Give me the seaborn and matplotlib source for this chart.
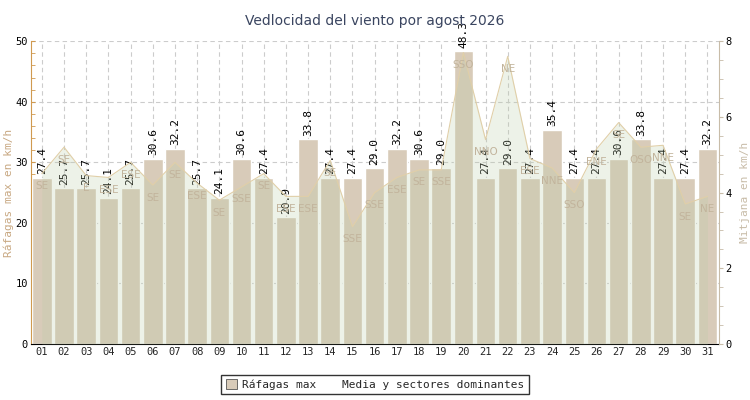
import numpy as np
import pandas as pd
import matplotlib
matplotlib.use("Agg")
import matplotlib.pyplot as plt
import seaborn as sns
from matplotlib.patches import Patch

days = [f"{d:02d}" for d in range(1, 32)]
rafagas = [27.4, 25.7, 25.7, 24.1, 25.7, 30.6, 32.2, 25.7, 24.1, 30.6, 27.4, 20.9, 33.8, 27.4, 27.4, 29.0,
           32.2, 30.6, 29.0, 48.3, 27.4, 29.0, 27.4, 35.4, 27.4, 27.4, 30.6, 33.8, 27.4, 27.4, 32.2]
media = [4.5, 5.2, 4.45, 4.4, 4.8, 4.2, 4.8, 4.25, 3.8, 4.15, 4.5, 3.9, 3.9, 4.85, 3.1, 4.0,
         4.4, 4.6, 4.6, 7.7, 5.4, 7.6, 4.9, 4.65, 4.0, 5.15, 5.85, 5.2, 5.25, 3.7, 3.9]
sectores = ["SE", "SE", "E", "ESE", "ESE", "SE", "SE", "ESE", "SE", "SSE", "SE", "ESE", "ESE", "SE", "SSE", "SSE",
            "ESE", "SE", "SSE", "SSO", "NNO", "NE", "ESE", "NNE", "SSO", "ENE", "SE", "OSO", "NNE", "SE", "NE"]

df = pd.DataFrame({"dia": days, "rafagas": rafagas, "media": media, "sector": sectores})

sns.set_style("white")
plt.rcParams["font.family"] = ["DejaVu Sans Mono", "DejaVu Sans"]

fig = plt.figure(figsize=(7.5, 4), dpi=100)
ax = fig.add_axes([0.041, 0.14, 0.917, 0.757])

tan = "#d8cbb9"
sns.barplot(data=df, x="dia", y="rafagas", color=tan, saturation=1, width=0.88, ax=ax, zorder=2)
ax.set_xlim(-0.5, 30.5)
ax.set_ylim(0, 50)
ax.set_yticks(range(0, 51, 10))
ax.set_yticks(range(0, 51, 2), minor=True)
ax.grid(True, axis="both", ls=(0, (4, 3)), color="#cccccc", lw=0.8, zorder=0)
ax.set_axisbelow(True)
for i, v in enumerate(rafagas):
    ax.text(i, v + 0.6, f"{v:.1f}", rotation=90, ha="center", va="bottom", fontsize=8, color="black", zorder=5)

ax2 = ax.twinx()
x = np.arange(len(days))
ax2.fill_between(x, media, color="#b9cca6", alpha=0.25, lw=0, zorder=3)
ax2.plot(x, media, color="#e0cfa8", lw=0.8, zorder=4)
for i, (m, s) in enumerate(zip(media, sectores)):
    ax2.text(i, m - 0.2, s, ha="center", va="top", fontsize=7.5, color="#c2b49c", family="DejaVu Sans", zorder=4)
ax2.set_ylim(0, 8)
ax2.set_yticks(range(0, 9, 2))
ax2.set_yticks(np.arange(0, 8.01, 0.5), minor=True)
ax2.set_xlim(-0.5, 30.5)

ax.set_xlabel("")
ax.set_ylabel("Ráfagas max en km/h", color="#c8a882", fontsize=8, labelpad=1)
ax2.set_ylabel("Mitjana en km/h", color="#c8bca8", fontsize=8, labelpad=6)
for a in (ax, ax2):
    a.tick_params(labelsize=7.5, length=3, which="both", pad=2)
    for s in a.spines.values():
        s.set_visible(False)
ax.spines["left"].set_visible(True)
ax.spines["left"].set_color("#d09a50")
ax.spines["bottom"].set_visible(True)
ax.spines["bottom"].set_color("black")
ax2.spines["right"].set_visible(True)
ax2.spines["right"].set_color("#c8bca8")
ax.tick_params(axis="y", which="both", colors="#d09a50", labelcolor="black", direction="in")
ax2.tick_params(axis="y", which="both", colors="#c8bca8", labelcolor="black")
ax.tick_params(axis="x", direction="in", length=4)

fig.suptitle("Vedlocidad del viento por agost 2026", y=0.965, fontsize=10, color="#3a4560",
             family="DejaVu Sans")

handles = [Patch(facecolor=tan, edgecolor="#555555", lw=0.6), Patch(facecolor="white", edgecolor="white")]
fig.legend(handles, ["Ráfagas max", "Media y sectores dominantes"], loc="lower center",
           bbox_to_anchor=(0.5, 0.0), ncol=2, fontsize=8, frameon=True, fancybox=False,
           edgecolor="black", handlelength=1, handleheight=1, columnspacing=0.8, handletextpad=0.5)

fig.savefig("out.png", dpi=100)
